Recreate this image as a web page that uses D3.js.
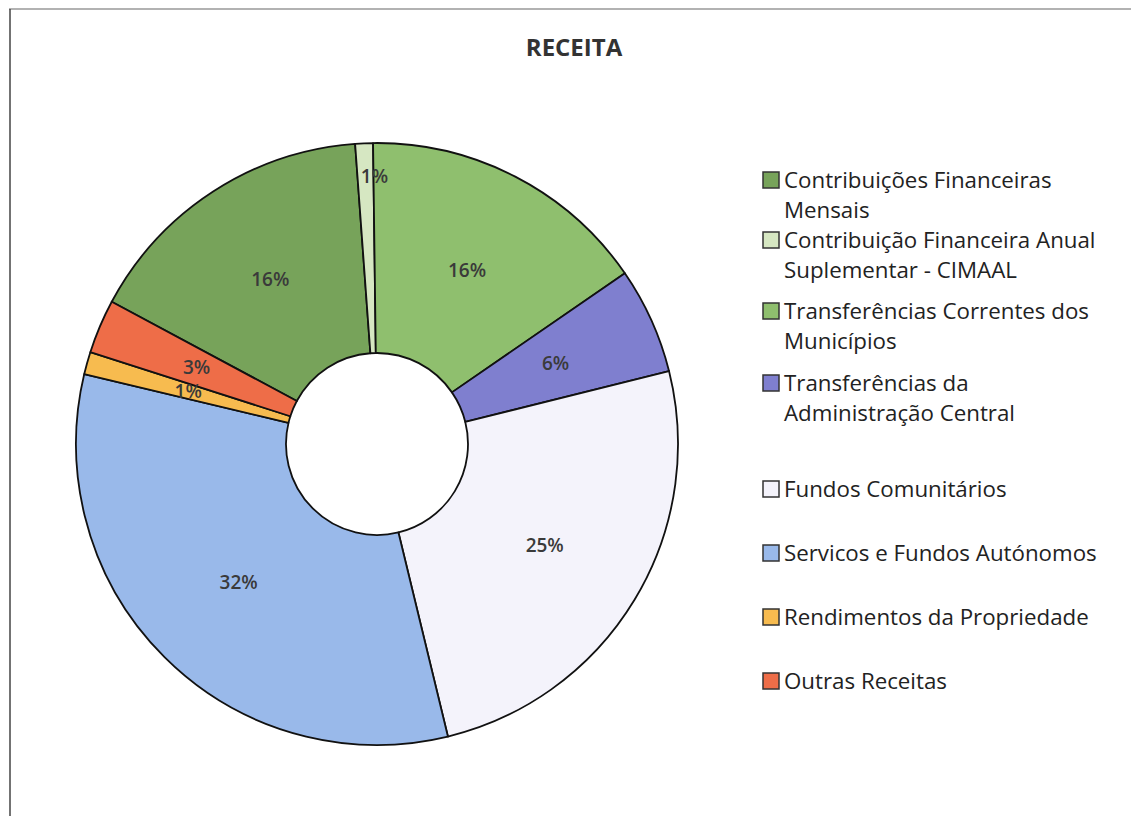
<!DOCTYPE html>
<html>
<head>
<meta charset="utf-8">
<script src="https://cdn.jsdelivr.net/npm/d3@7"></script>
<style>
  body { margin: 0; background: #fff; }
  svg { display: block; }
</style>
</head>
<body>
<div id="chart"></div>
<script>
const title = 'RECEITA';
const categories = [
  'Contribuições Financeiras\nMensais',
  'Contribuição Financeira Anual\nSuplementar - CIMAAL',
  'Transferências Correntes dos\nMunicípios',
  'Transferências da\nAdministração Central',
  'Fundos Comunitários',
  'Servicos e Fundos Autónomos',
  'Rendimentos da Propriedade',
  'Outras Receitas'
];
const values = [16.0, 0.95, 15.6, 5.7, 25.1, 32.5, 1.2, 2.9];
const labels = ['16%', '1%', '16%', '6%', '25%', '32%', '1%', '3%'];
const colors = ['#77a35a', '#d6e7c2', '#8fbf6e', '#7f7fcf', '#f4f3fb', '#99b9ea', '#f7bb4f', '#ee6d48'];

const width = 1131;
const height = 816;
const cx = 377, cy = 444;
const outerR = 301, innerR = 91;
const font = '"Open Sans", sans-serif';

const svg = d3.select('#chart')
  .append('svg')
  .attr('width', width)
  .attr('height', height)
  .attr('viewBox', [0, 0, width, height]);

// frame (only top and left edges show in the scan)
svg.append('line')
  .attr('x1', 9).attr('y1', 9).attr('x2', width).attr('y2', 9)
  .attr('stroke', '#999').attr('stroke-width', 1.5);
svg.append('line')
  .attr('x1', 10).attr('y1', 9).attr('x2', 10).attr('y2', height)
  .attr('stroke', '#444').attr('stroke-width', 1.5);

svg.append('text')
  .attr('x', 574).attr('y', 56)
  .attr('text-anchor', 'middle')
  .attr('font-family', font)
  .attr('font-weight', 'bold')
  .attr('font-size', 24)
  .attr('fill', '#333')
  .text(title);

const pie = d3.pie()
  .sort(null)
  .startAngle(-61.8 * Math.PI / 180)
  .endAngle(-61.8 * Math.PI / 180 + 2 * Math.PI);

const arcs = pie(values);
const arc = d3.arc().innerRadius(innerR).outerRadius(outerR);
const labelArc = d3.arc().innerRadius(196).outerRadius(196);
const outerLabelArc = d3.arc().innerRadius(268).outerRadius(268);

const g = svg.append('g').attr('transform', `translate(${cx},${cy})`);

g.selectAll('path')
  .data(arcs)
  .join('path')
    .attr('d', arc)
    .attr('fill', (d, i) => colors[i])
    .attr('stroke', '#111')
    .attr('stroke-width', 1.8)
    .attr('stroke-linejoin', 'round');

g.selectAll('text.lbl')
  .data(arcs)
  .join('text')
    .attr('class', 'lbl')
    .attr('transform', (d, i) => {
      const c = (i === 1 ? outerLabelArc : labelArc).centroid(d);
      if (i === 1) c[0] += 9;
      return `translate(${c})`;
    })
    .attr('text-anchor', 'middle')
    .attr('dy', '0.35em')
    .attr('font-family', font)
    .attr('font-weight', 600)
    .attr('font-size', 19)
    .attr('fill', '#3a3a3a')
    .text((d, i) => labels[i]);

// legend
const legendY = [180, 240, 311, 383, 489, 553, 617, 681];
const legend = svg.append('g')
  .selectAll('g')
  .data(categories)
  .join('g')
    .attr('transform', (d, i) => `translate(763,${legendY[i]})`);

legend.append('rect')
  .attr('x', 0).attr('y', -8)
  .attr('width', 16).attr('height', 16)
  .attr('fill', (d, i) => colors[i])
  .attr('stroke', '#333')
  .attr('stroke-width', 1.5);

legend.append('text')
  .attr('font-family', font)
  .attr('font-size', 22.3)
  .attr('fill', '#222')
  .selectAll('tspan')
  .data(d => d.split('\n'))
  .join('tspan')
    .attr('x', 21)
    .attr('y', (d, i) => i * 30)
    .attr('dy', '0.35em')
    .text(d => d);
</script>
</body>
</html>
